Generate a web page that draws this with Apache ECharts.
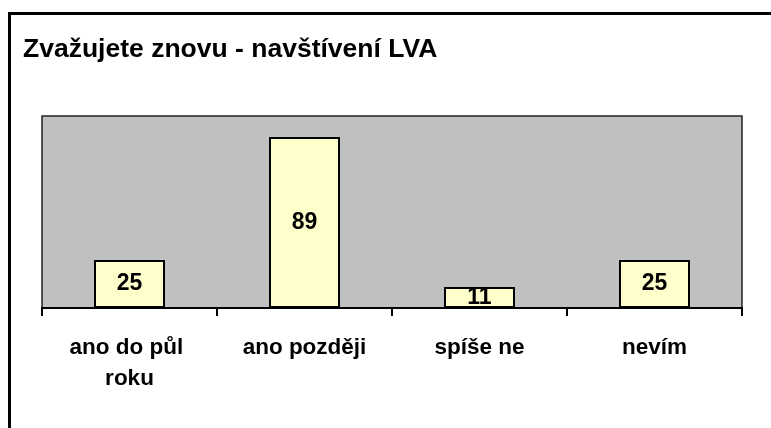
<!DOCTYPE html>
<html>
<head>
<meta charset="utf-8">
<script src="https://cdn.jsdelivr.net/npm/echarts@6/dist/echarts.min.js"></script>
<style>
  html, body { margin: 0; padding: 0; background: #fff; }
  .frame {
    position: absolute; left: 8px; top: 12px; width: 763px; height: 416px;
    border-left: 3px solid #000; border-top: 3px solid #000; box-sizing: border-box;
  }
  #chart { position: absolute; left: 0; top: 0; width: 771px; height: 428px; }
</style>
</head>
<body>
<div class="frame"></div>
<div id="chart"></div>
<script>
// data
const titleText = 'Zvažujete znovu - navštívení LVA';
const categories = ['ano do půl roku', 'ano později', 'spíše ne', 'nevím'];
const counts = [25, 89, 11, 25];

const fontFamily = 'Arial, "Liberation Sans", sans-serif';

const myChart = echarts.init(document.getElementById('chart'), null, { renderer: 'canvas' });

const option = {
  animation: false,
  backgroundColor: 'transparent',
  title: {
    text: titleText,
    left: 23,
    top: 36,
    padding: 0,
    textStyle: {
      color: '#000',
      fontSize: 26.5,
      fontWeight: 'bold',
      fontFamily: fontFamily
    }
  },
  grid: {
    left: 42,
    right: 29,
    top: 116,
    height: 192,
    show: true,
    backgroundColor: '#C0C0C0',
    borderColor: '#222',
    borderWidth: 1.5
  },
  xAxis: {
    type: 'category',
    data: categories,
    boundaryGap: true,
    axisLine: { show: true, lineStyle: { color: '#000', width: 2 } },
    axisTick: { show: true, length: 8, lineStyle: { color: '#000', width: 2 } },
    axisLabel: {
      interval: 0,
      margin: 24,
      color: '#000',
      fontSize: 22.5,
      fontWeight: 'bold',
      fontFamily: fontFamily,
      lineHeight: 31,
      width: 150,
      overflow: 'break'
    }
  },
  yAxis: {
    type: 'value',
    min: 0,
    max: 100,
    show: false,
    splitLine: { show: false }
  },
  series: [
    {
      type: 'bar',
      data: counts,
      barWidth: 71,
      itemStyle: {
        color: '#FFFFCC',
        borderColor: '#000',
        borderWidth: 2
      },
      label: {
        show: true,
        position: 'inside',
        color: '#000',
        fontSize: 23,
        fontWeight: 'bold',
        fontFamily: fontFamily
      }
    }
  ]
};

myChart.setOption(option);
</script>
</body>
</html>
